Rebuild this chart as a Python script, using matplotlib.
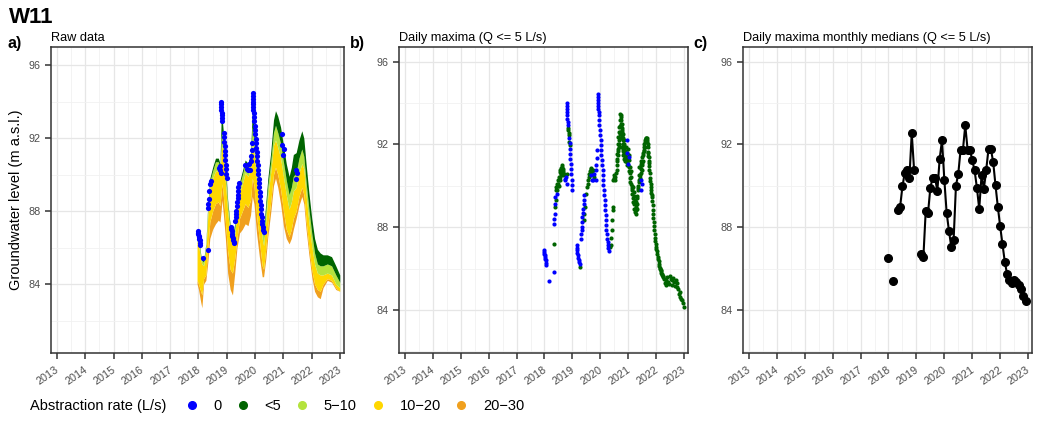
import numpy as np
import matplotlib
matplotlib.use("Agg")
import matplotlib.pyplot as plt
import matplotlib.transforms as mtransforms
from matplotlib.lines import Line2D
from matplotlib.ticker import FixedLocator, FixedFormatter

plt.rcParams['font.family'] = ['Liberation Sans', 'DejaVu Sans']

# ---------------------------------------------------------------- data
well_name = "W11"
year_ticks = list(range(2013, 2024))

rate_labels = ['0', '<5', '5\u221210', '10\u221220', '20\u221230']
rate_colors = ['#0000FF', '#006400', '#B4E33D', '#FFD700', '#F0A01E']

# Raw record: level envelope of each abstraction-rate class (m a.s.l.)
raw_year = [2017.95, 2018.00, 2018.08, 2018.12, 2018.18, 2018.26, 2018.33, 2018.40,
            2018.50, 2018.60, 2018.70, 2018.76, 2018.80, 2018.83, 2018.88, 2018.95,
            2019.03, 2019.12, 2019.20, 2019.28, 2019.36, 2019.45, 2019.55, 2019.65,
            2019.75, 2019.84, 2019.90, 2019.96, 2020.05, 2020.15, 2020.25, 2020.30,
            2020.38, 2020.45, 2020.55, 2020.65, 2020.72, 2020.80, 2020.90, 2021.00,
            2021.10, 2021.20, 2021.28, 2021.35, 2021.45, 2021.55, 2021.65, 2021.72,
            2021.80, 2021.90, 2022.00, 2022.10, 2022.20, 2022.30, 2022.40, 2022.55,
            2022.70, 2022.85, 2022.99]
raw_top = [86.9, 86.8, 85.6, 85.4, 85.3, 86.2, 88.4, 89.8, 90.4, 90.9, 90.9, 90.6, 93.0,
           93.2, 92.3, 90.5, 88.6, 87.2, 86.6, 87.3, 88.7, 89.6, 90.2, 90.8, 90.6, 91.2,
           93.5, 92.6, 91.0, 89.2, 87.4, 86.9, 88.5, 89.8, 91.2, 93.0, 93.5, 93.2, 92.6,
           91.6, 90.6, 89.9, 90.4, 91.1, 91.2, 91.9, 92.4, 92.0, 90.6, 89.0, 87.6, 86.5,
           85.9, 85.7, 85.6, 85.6, 85.5, 85.0, 84.5]
raw_green_low = [86.7, 86.6, 85.5, 85.3, 85.2, 86.1, 88.2, 89.6, 90.2, 90.7, 90.7, 90.4,
                 92.0, 92.4, 91.7, 90.2, 88.4, 87.0, 86.4, 87.1, 88.5, 89.4, 90.0, 90.6,
                 90.4, 90.9, 92.6, 92.0, 90.5, 88.8, 87.0, 86.6, 88.1, 89.4, 90.7, 92.3,
                 92.7, 92.3, 91.7, 90.7, 89.7, 88.9, 89.3, 89.9, 90.1, 90.9, 91.4, 91.0,
                 89.6, 88.1, 86.8, 85.7, 85.1, 85.0, 85.0, 85.1, 85.0, 84.5, 84.1]
raw_lgreen_low = [86.3, 86.2, 85.3, 85.1, 85.0, 85.8, 87.8, 89.2, 89.8, 90.2, 90.2, 90.0,
                  91.2, 91.6, 91.0, 89.6, 88.0, 86.7, 86.1, 86.7, 88.0, 89.0, 89.5, 90.1,
                  89.9, 90.3, 91.8, 91.2, 89.7, 88.2, 86.5, 86.1, 87.5, 88.8, 90.1, 91.6,
                  91.9, 91.5, 90.9, 89.9, 88.9, 88.1, 88.5, 89.1, 89.3, 90.1, 90.6, 90.3,
                  88.9, 87.4, 86.1, 85.1, 84.6, 84.5, 84.5, 84.6, 84.5, 84.0, 83.8]
raw_gold_low = [84.2, 84.0, 83.6, 83.4, 84.3, 84.5, 86.0, 87.4, 88.0, 88.4, 88.5, 88.3,
                89.0, 89.5, 88.8, 87.4, 85.8, 84.8, 84.6, 85.4, 86.5, 87.6, 88.0, 88.4,
                88.2, 88.6, 89.8, 89.4, 87.8, 86.4, 85.0, 84.8, 86.0, 87.2, 88.5, 90.0,
                90.4, 90.0, 89.2, 88.0, 87.0, 86.6, 87.0, 87.6, 88.0, 88.8, 89.3, 88.9,
                87.5, 86.0, 84.8, 84.0, 83.7, 83.6, 84.0, 84.3, 84.2, 83.8, 83.6]
raw_orange_low = [84.0, 83.7, 83.0, 82.7, 84.0, 84.2, 85.2, 86.5, 87.0, 87.3, 87.5, 87.4,
                  88.0, 88.6, 87.8, 86.5, 84.6, 83.7, 83.4, 84.6, 86.0, 86.8, 87.0, 87.3,
                  87.2, 87.8, 88.8, 88.4, 86.8, 85.5, 84.4, 84.4, 85.4, 86.6, 87.9, 89.4,
                  89.8, 89.3, 88.4, 87.2, 86.5, 86.2, 86.5, 87.0, 87.6, 88.3, 88.8, 88.4,
                  87.0, 85.6, 84.4, 83.6, 83.3, 83.2, 83.8, 84.2, 84.1, 83.7, 83.6]

# Daily maxima with no abstraction (Q = 0)
blue_year = [2017.98, 2017.99, 2018.00, 2018.01, 2018.02, 2018.03, 2018.04, 2018.05, 2018.06,
             2018.16, 2018.33, 2018.33, 2018.35, 2018.36, 2018.38, 2018.39, 2018.45, 2018.72,
             2018.75, 2018.77, 2018.79, 2018.80, 2018.80, 2018.81, 2018.81, 2018.82, 2018.82,
             2018.83, 2018.84, 2018.89, 2018.90, 2018.91, 2018.92, 2018.93, 2018.94, 2018.95,
             2018.96, 2018.97, 2018.98, 2018.99, 2019.15, 2019.16, 2019.17, 2019.18, 2019.19,
             2019.21, 2019.23, 2019.25, 2019.27, 2019.30, 2019.31, 2019.33, 2019.34, 2019.35,
             2019.36, 2019.38, 2019.39, 2019.40, 2019.41, 2019.43, 2019.65, 2019.70, 2019.74,
             2019.79, 2019.83, 2019.85, 2019.86, 2019.88, 2019.89, 2019.91, 2019.91, 2019.91,
             2019.92, 2019.92, 2019.92, 2019.94, 2019.95, 2019.96, 2019.97, 2019.98, 2019.99,
             2020.01, 2020.02, 2020.03, 2020.04, 2020.05, 2020.06, 2020.08, 2020.09, 2020.10,
             2020.11, 2020.13, 2020.14, 2020.15, 2020.16, 2020.17, 2020.19, 2020.20, 2020.21,
             2020.22, 2020.24, 2020.25, 2020.26, 2020.27, 2020.29, 2020.31, 2020.94, 2020.96,
             2020.99, 2021.02, 2021.44, 2021.46, 2021.48]
blue_level = [86.88, 86.80, 86.72, 86.64, 86.56, 86.48, 86.40, 86.27, 86.16,
              85.40, 85.84, 88.17, 88.40, 88.65, 89.10, 89.46, 89.62, 90.34,
              90.26, 90.45, 90.10, 94.00, 93.85, 93.70, 93.55, 93.40, 93.25,
              93.10, 92.95, 92.30, 92.05, 91.80, 91.55, 91.30, 91.05, 90.80,
              90.55, 90.30, 90.05, 89.80, 87.12, 87.00, 86.88, 86.76, 86.64,
              86.52, 86.40, 86.30, 86.24, 87.45, 87.69, 87.85, 88.01, 88.25,
              88.49, 88.70, 88.90, 89.10, 89.30, 89.54, 90.51, 90.30, 90.26,
              90.59, 90.26, 90.75, 90.99, 91.35, 91.71, 94.45, 94.30, 94.15,
              94.00, 93.85, 93.70, 93.55, 93.40, 93.16, 92.92, 92.68, 92.44,
              92.20, 91.95, 91.71, 91.47, 91.23, 90.99, 90.75, 90.50, 90.26,
              90.02, 89.78, 89.54, 89.30, 89.05, 88.81, 88.57, 88.33, 88.09,
              87.85, 87.65, 87.45, 87.28, 87.12, 86.98, 86.85, 92.20, 91.60,
              91.07, 91.40, 89.78, 90.26, 90.10]

# Daily maxima with abstraction below 5 L/s
green_year = [2018.33, 2018.38, 2018.40, 2018.42, 2018.43, 2018.44, 2018.46, 2018.47, 2018.48,
              2018.50, 2018.51, 2018.52, 2018.53, 2018.54, 2018.55, 2018.56, 2018.57, 2018.58,
              2018.59, 2018.60, 2018.61, 2018.62, 2018.63, 2018.64, 2018.65, 2018.66, 2018.67,
              2018.68, 2018.69, 2018.81, 2018.85, 2018.86, 2018.87, 2018.88, 2018.89, 2018.91,
              2019.29, 2019.41, 2019.43, 2019.45, 2019.50, 2019.53, 2019.55, 2019.57, 2019.58,
              2019.60, 2019.62, 2019.65, 2019.66, 2019.68, 2019.70, 2019.72, 2019.75, 2019.77,
              2020.34, 2020.39, 2020.40, 2020.41, 2020.43, 2020.44, 2020.45, 2020.46, 2020.48,
              2020.49, 2020.51, 2020.53, 2020.56, 2020.58, 2020.59, 2020.60, 2020.61, 2020.615,
              2020.62, 2020.63, 2020.635, 2020.64, 2020.65, 2020.655, 2020.66, 2020.67, 2020.675,
              2020.68, 2020.69, 2020.695, 2020.70, 2020.71, 2020.715, 2020.72, 2020.73, 2020.735,
              2020.74, 2020.745, 2020.75, 2020.755, 2020.76, 2020.765, 2020.77, 2020.775, 2020.78,
              2020.785, 2020.79, 2020.795, 2020.80, 2020.805, 2020.81, 2020.815, 2020.82, 2020.825,
              2020.83, 2020.835, 2020.84, 2020.845, 2020.85, 2020.86, 2020.87, 2020.875, 2020.88,
              2020.89, 2020.90, 2020.91, 2020.92, 2020.93, 2020.94, 2020.95, 2020.96, 2020.97,
              2020.98, 2021.00, 2021.01, 2021.02, 2021.03, 2021.04, 2021.05, 2021.06, 2021.07,
              2021.08, 2021.09, 2021.10, 2021.11, 2021.12, 2021.13, 2021.14, 2021.15, 2021.16,
              2021.17, 2021.18, 2021.19, 2021.20, 2021.21, 2021.22, 2021.23, 2021.24, 2021.25,
              2021.26, 2021.27, 2021.28, 2021.29, 2021.30, 2021.31, 2021.32, 2021.33, 2021.34,
              2021.35, 2021.36, 2021.37, 2021.38, 2021.39, 2021.40, 2021.41, 2021.42, 2021.43,
              2021.44, 2021.45, 2021.46, 2021.47, 2021.48, 2021.49, 2021.50, 2021.51, 2021.52,
              2021.53, 2021.54, 2021.55, 2021.56, 2021.57, 2021.58, 2021.59, 2021.60, 2021.61,
              2021.62, 2021.63, 2021.64, 2021.65, 2021.66, 2021.67, 2021.68, 2021.69, 2021.70,
              2021.705, 2021.71, 2021.72, 2021.73, 2021.735, 2021.74, 2021.75, 2021.76, 2021.77,
              2021.78, 2021.79, 2021.80, 2021.81, 2021.82, 2021.83, 2021.84, 2021.85, 2021.86,
              2021.87, 2021.88, 2021.89, 2021.90, 2021.91, 2021.92, 2021.94, 2021.95, 2021.96,
              2021.975, 2021.99, 2022.00, 2022.01, 2022.025, 2022.04, 2022.055, 2022.07, 2022.085,
              2022.10, 2022.115, 2022.13, 2022.145, 2022.16, 2022.175, 2022.19, 2022.205, 2022.22,
              2022.235, 2022.25, 2022.28, 2022.31, 2022.34, 2022.37, 2022.40, 2022.43, 2022.46,
              2022.49, 2022.52, 2022.55, 2022.58, 2022.61, 2022.64, 2022.67, 2022.70, 2022.73,
              2022.76, 2022.79, 2022.81, 2022.84, 2022.87, 2022.90, 2022.93, 2022.96, 2022.99]
green_level = [87.17, 88.98, 89.30, 89.78, 89.94, 90.10, 89.80, 90.30, 89.97,
               90.10, 90.26, 90.00, 90.45, 90.65, 90.43, 90.30, 90.75, 90.55,
               90.60, 90.88, 91.00, 90.70, 90.91, 90.75, 90.60, 90.50, 90.83,
               90.70, 90.59, 90.59, 92.80, 92.68, 92.55, 92.44, 92.10, 91.95,
               86.08, 88.33, 88.65, 89.00, 89.60, 89.94, 90.10, 90.26, 90.45,
               90.59, 90.70, 90.83, 90.60, 90.88, 90.70, 90.75, 90.55, 90.42,
               87.04, 87.12, 87.50, 87.85, 88.33, 88.81, 88.98, 90.26, 90.40,
               90.51, 90.30, 90.42, 90.60, 90.75, 91.20, 91.55, 91.00, 91.30,
               91.80, 92.04, 91.70, 91.50, 92.36, 91.90, 92.00, 92.60, 92.20,
               92.84, 92.30, 92.50, 93.16, 92.60, 92.90, 93.48, 92.90, 93.20,
               93.40, 92.50, 93.32, 93.00, 92.70, 92.40, 93.00, 92.60, 92.30,
               91.90, 92.80, 92.20, 92.52, 91.80, 92.00, 92.30, 92.04, 91.50,
               91.70, 92.00, 91.71, 91.30, 92.20, 91.60, 91.87, 91.20, 91.40,
               91.70, 91.55, 91.30, 91.90, 91.20, 91.60, 91.00, 91.39, 91.15,
               91.80, 91.00, 91.50, 91.23, 90.90, 90.70, 90.60, 90.91, 90.20,
               90.40, 90.70, 90.10, 90.42, 90.00, 89.90, 89.60, 89.78, 89.95,
               89.20, 89.40, 89.70, 89.14, 88.90, 89.50, 89.30, 88.90, 88.73,
               88.85, 89.00, 89.20, 88.65, 89.40, 88.90, 89.14, 89.50, 89.90,
               89.78, 90.00, 90.26, 90.50, 90.91, 90.20, 90.50, 90.90, 90.40,
               91.07, 90.80, 91.20, 90.60, 91.00, 90.75, 91.10, 91.39, 91.20,
               91.60, 91.50, 91.70, 91.87, 91.75, 92.00, 92.10, 91.90, 92.20,
               92.25, 92.30, 92.15, 92.30, 92.33, 92.10, 92.20, 92.00, 91.87,
               91.65, 91.60, 91.45, 91.39, 91.20, 91.10, 90.95, 90.75, 90.60,
               90.40, 90.25, 90.10, 89.95, 89.80, 89.65, 89.55, 89.46, 89.25,
               89.05, 88.85, 88.65, 88.45, 88.25, 88.05, 87.85, 87.65, 87.50,
               87.35, 87.20, 87.05, 86.95, 86.85, 86.72, 86.58, 86.45, 86.35,
               86.24, 86.12, 86.05, 85.98, 85.92, 85.86, 85.80, 85.72, 85.67,
               85.62, 85.58, 85.51, 85.30, 85.43, 85.20, 85.59, 85.35, 85.27,
               85.62, 85.51, 85.20, 85.43, 85.55, 85.35, 85.15, 85.43, 85.30,
               85.11, 85.00, 84.79, 84.85, 84.63, 84.55, 84.47, 84.35, 84.15]

# Monthly medians of the daily maxima (NaN = month without data)
median_month = ['%d-%02d' % (y, m) for y in range(2018, 2023) for m in range(1, 13)]
nan = float('nan')
median_level = [86.53, nan, 85.40, nan, 88.82, 88.99, 89.97, 90.62, 90.75, 90.40, 92.55, 90.78,
                nan, nan, 86.72, 86.56, 88.77, 88.69, 89.91, 90.40, 90.40, 89.75, 91.31, 92.20,
                90.30, 88.69, 87.82, 87.04, 87.40, 90.01, 90.59, 91.75, 91.75, 92.92, 91.75, 91.75,
                91.23, 90.75, 89.91, 88.88, 90.51, 89.86, 90.78, 91.78, 91.78, 91.15, 90.02, 88.98,
                88.04, 87.17, 86.32, 85.72, 85.43, 85.30, 85.47, 85.36, 85.19, 85.01, 84.69, 84.45]

# ---------------------------------------------------------------- figure
W, H = 1038, 421
fig = plt.figure(figsize=(W / 100, H / 100), dpi=100)


def px_rect(x0, y0, x1, y1):
    return [x0 / W, 1 - y1 / H, (x1 - x0) / W, (y1 - y0) / H]


ax_a = fig.add_axes(px_rect(51, 47, 344, 353))
ax_b = fig.add_axes(px_rect(399, 47, 688, 353))
ax_c = fig.add_axes(px_rect(743, 47, 1032, 353))

grid_major = '#E6E6E6'
grid_minor = '#F1F1F1'
frame_col = '#333333'
tick_lab_col = '#4D4D4D'
label_shift = mtransforms.ScaledTranslation(-2 / 100, 0, fig.dpi_scale_trans)


def style_axis(ax, ylim, title):
    ax.set_xlim(2012.79, 2023.14)
    ax.set_ylim(*ylim)
    ax.xaxis.set_major_locator(FixedLocator(year_ticks))
    ax.xaxis.set_major_formatter(FixedFormatter([str(y) for y in year_ticks]))
    ax.xaxis.set_minor_locator(FixedLocator([y + 0.5 for y in year_ticks]))
    ax.yaxis.set_major_locator(FixedLocator([84, 88, 92, 96]))
    ax.yaxis.set_minor_locator(FixedLocator([82, 86, 90, 94]))
    ax.grid(True, which='major', color=grid_major, lw=0.9, zorder=0)
    ax.grid(True, which='minor', color=grid_minor, lw=0.6, zorder=0)
    ax.set_axisbelow(True)
    for s in ax.spines.values():
        s.set_color(frame_col)
        s.set_linewidth(1.1)
    ax.tick_params(which='major', length=4.3, width=1.1, color=frame_col,
                   labelcolor=tick_lab_col, labelsize=7.8, pad=3)
    ax.tick_params(axis='x', which='major', pad=4.2)
    ax.tick_params(which='minor', length=0)
    for lab in ax.get_xticklabels():
        lab.set_rotation(35)
        lab.set_ha('right')
        lab.set_va('top')
        lab.set_rotation_mode('anchor')
        lab.set_transform(lab.get_transform() + label_shift)
    ax.set_title(title, loc='left', fontsize=9.2, pad=4.5, color='black')


style_axis(ax_a, (80.22, 96.99), 'Raw data')
style_axis(ax_b, (81.92, 96.71), 'Daily maxima (Q <= 5 L/s)')
style_axis(ax_c, (81.92, 96.71), 'Daily maxima monthly medians (Q <= 5 L/s)')

# panel a: raw levels by abstraction class
ax_a.fill_between(raw_year, raw_orange_low, raw_gold_low, color=rate_colors[4], lw=0, zorder=2)
ax_a.fill_between(raw_year, raw_gold_low, raw_lgreen_low, color=rate_colors[3], lw=0, zorder=2)
ax_a.fill_between(raw_year, raw_lgreen_low, raw_green_low, color=rate_colors[2], lw=0, zorder=2)
ax_a.fill_between(raw_year, raw_green_low, raw_top, color=rate_colors[1], lw=0, zorder=2)
ax_a.scatter(blue_year, blue_level, s=14, color=rate_colors[0], lw=0, zorder=3)

# panel b: daily maxima
ax_b.scatter(green_year, green_level, s=9, color=rate_colors[1], lw=0, zorder=3)
ax_b.scatter(blue_year, blue_level, s=9, color=rate_colors[0], lw=0, zorder=3)

# panel c: monthly medians
med_x = [int(m[:4]) + (int(m[5:]) - 1) / 12 for m in median_month]
ax_c.plot(med_x, median_level, color='black', lw=1.5, zorder=3)
ax_c.plot(med_x, median_level, ls='none', marker='o', ms=5.5, color='black', zorder=4)

ax_a.set_ylabel('Groundwater level (m a.s.l.)', fontsize=10.5, labelpad=4)

# headings and panel tags
fig.text(9 / W, 1 - 23 / H, well_name, fontsize=16, fontweight='bold', va='baseline')
for tag, xp in (('a)', 7), ('b)', 350), ('c)', 693)):
    fig.text(xp / W, 1 - 48 / H, tag, fontsize=11.5, fontweight='bold', va='baseline')

# legend
fig.text(30 / W, 1 - 406 / H, 'Abstraction rate (L/s)', fontsize=10.5, va='center')
handles = [Line2D([], [], ls='none', marker='o', ms=5.5, color=c) for c in rate_colors]
fig.legend(handles, rate_labels, loc='center left', bbox_to_anchor=(186 / W, 1 - 406 / H),
           ncol=5, frameon=False, fontsize=10.5, handlelength=0.8, handletextpad=1.1,
           columnspacing=1.02, borderpad=0, borderaxespad=0)

fig.savefig('out.png', dpi=100)
